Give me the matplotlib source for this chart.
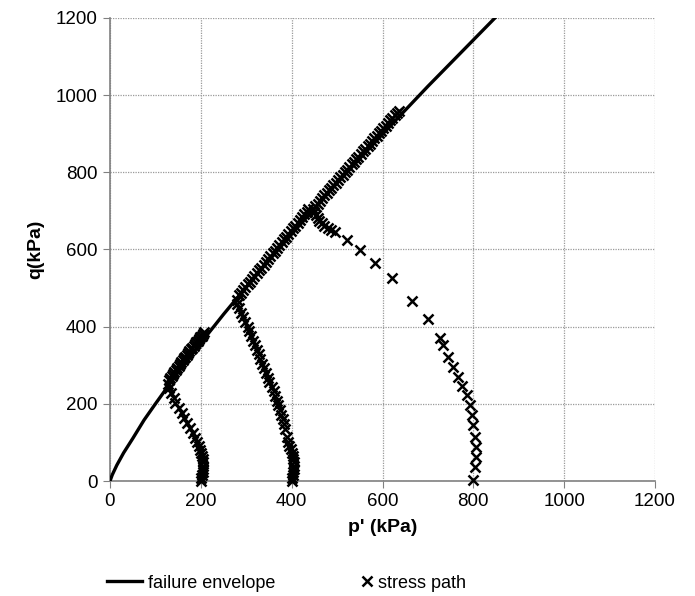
import numpy as np
import matplotlib; matplotlib.use("Agg")
import matplotlib.pyplot as plt

# ---------- data (kPa) ----------
env_p = [0, 5, 15, 30, 50, 75, 100, 150, 200, 250, 300, 400, 500, 600, 700, 800, 860]
env_q = [0, 16, 41, 73, 110, 158, 200, 282, 358, 432, 503, 640, 772, 899, 1023, 1143, 1215]

sp200_p = [200, 201, 203, 204, 205, 205, 205, 204, 203, 201, 199, 196, 192, 187, 182,
           176, 170, 164, 158, 151, 144, 140, 135, 131, 127,
           130, 133, 136, 139, 142, 145, 148, 151, 154, 157, 160, 163, 166, 169, 172,
           175, 178, 181, 184, 187, 190, 193, 196, 199, 202, 205, 208]
sp200_q = [0, 8, 16, 24, 32, 40, 48, 56, 64, 72, 80, 90, 100, 112, 124,
           137, 150, 163, 176, 189, 202, 215, 228, 240, 252,
           262, 268, 273, 278, 283, 288, 293, 298, 303, 308, 313, 318, 322, 327, 332,
           337, 341, 346, 351, 355, 360, 364, 369, 373, 377, 381, 385]

sp400_p = [400, 401, 403, 404, 405, 405, 405, 404, 403, 401, 398, 395, 392, 389,
           386, 383, 380, 377, 374, 371, 368, 364, 360, 356, 351, 347, 343, 339, 335,
           331, 327, 323, 319, 315, 311, 307, 303, 298, 293, 288, 283, 280, 279,
           283, 288, 293, 298, 303, 308, 313, 318, 323, 328, 333, 338, 343, 348, 353,
           358, 363, 368, 373, 378, 383, 388, 393, 398, 403, 408, 413, 418, 423, 428,
           433, 437]
sp400_q = [0, 8, 16, 24, 32, 40, 48, 56, 64, 72, 82, 92, 102, 113,
           136, 148, 160, 172, 184, 196, 208, 220, 232, 244, 256, 268, 280, 292, 304,
           316, 328, 340, 352, 364, 376, 388, 400, 412, 424, 436, 448, 460, 470,
           481, 488, 495, 503, 510, 517, 524, 532, 539, 546, 553, 561, 568, 575, 582,
           590, 597, 604, 611, 619, 626, 633, 640, 648, 655, 662, 669, 677, 684, 691,
           698, 704]

sp800_p = [800, 803, 805, 805, 803, 800, 797, 792, 785, 776, 767, 755, 745, 733, 726,
           700, 665, 622, 583, 550, 521, 495, 487, 479, 472, 466, 461, 457, 453, 450, 447,
           452, 457, 462, 467, 472, 477, 482, 487, 492, 497, 502, 507, 512, 517, 522,
           527, 532, 537, 542, 547, 552, 557, 562, 567, 572, 577, 582, 587, 592, 597,
           602, 607, 612, 617, 622, 627, 632, 636]
sp800_q = [3, 36, 62, 89, 115, 145, 171, 197, 223, 246, 270, 296, 322, 353, 371,
           420, 467, 525, 565, 599, 625, 645, 650, 656, 662, 668, 675, 682, 690, 698, 706,
           713, 719, 726, 733, 740, 746, 753, 760, 767, 773, 780, 787, 794, 800, 807,
           814, 821, 827, 834, 841, 847, 854, 861, 868, 874, 881, 888, 894, 901, 908,
           914, 921, 928, 935, 941, 948, 955, 960]

ticks = [0, 200, 400, 600, 800, 1000, 1200]

plt.rcParams['font.family'] = ['Liberation Sans', 'DejaVu Sans']

fig = plt.figure(figsize=(6.95, 5.96), dpi=100)
ax = fig.add_axes([110/695, 1 - 481/596, 545/695, 463/596])

env_line, = ax.plot(env_p, env_q, color="black", lw=2.4, zorder=3)
for p, q in [(sp200_p, sp200_q), (sp400_p, sp400_q), (sp800_p, sp800_q)]:
    sp_pts, = ax.plot(p, q, ls="none", marker="x", ms=7.5, mew=1.8, color="black",
                      zorder=4, clip_on=False)

ax.set_xlim(0, 1200); ax.set_ylim(0, 1200)
ax.set_xticks(ticks); ax.set_yticks(ticks)
ax.tick_params(labelsize=13.5, direction="out", length=5, color="#808080", pad=4)
ax.grid(True, color="#9a9a9a", ls=(0, (1, 1)), lw=0.9)
ax.set_axisbelow(True)
for s in ["top", "right"]:
    ax.spines[s].set_visible(False)
for s in ["left", "bottom"]:
    ax.spines[s].set_color("#808080"); ax.spines[s].set_linewidth(1.2)

ax.set_xlabel("p' (kPa)", fontsize=14, fontweight="bold", labelpad=6)
ax.set_ylabel("q(kPa)", fontsize=14, fontweight="bold", labelpad=8)

# two legend boxes so the marker sits close to its text like the reference
leg_y = 1 - 583/596
fig.legend([env_line], ["failure envelope"], loc="center left", bbox_to_anchor=(107/695, leg_y),
           frameon=False, fontsize=13, handlelength=1.95, handletextpad=0.3,
           borderpad=0, borderaxespad=0)
fig.legend([sp_pts], ["stress path"], loc="center left", bbox_to_anchor=(361/695, leg_y),
           frameon=False, fontsize=13, handlelength=0.7, handletextpad=0.25,
           borderpad=0, borderaxespad=0)

fig.savefig("out.png", dpi=100)
